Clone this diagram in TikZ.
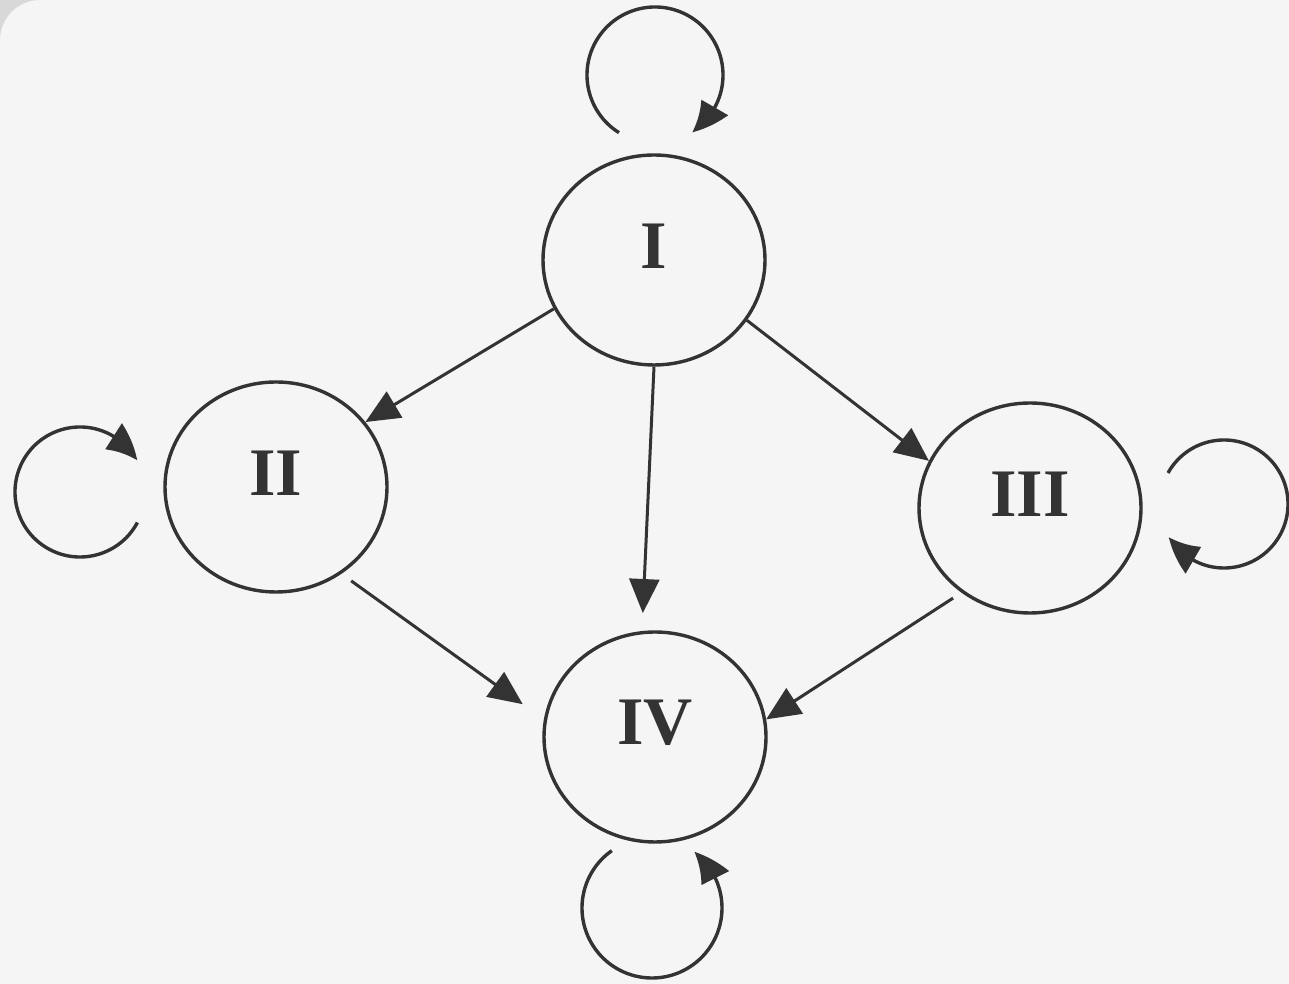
\documentclass[tikz,border=0pt]{standalone}
\usepackage{fontspec}
\setmainfont{Liberation Serif}
\usetikzlibrary{arrows.meta,bending,shapes.geometric}
\definecolor{bg}{HTML}{F5F5F5}
\definecolor{ink}{HTML}{333333}
\definecolor{cornergray}{HTML}{D8D8D8}
\begin{document}
\begin{tikzpicture}[x=0.5pt,y=0.5pt,
  statenode/.style={ellipse,draw=ink,line width=1.7pt,minimum width=111pt,minimum height=105pt,inner sep=0pt},
  lab/.style={font=\fontsize{34}{40}\selectfont\bfseries,text=ink,inner sep=0pt},
  arr/.style={draw=ink,line width=1.5pt,-{Triangle[length=17pt,width=15pt]}},
  loopline/.style={draw=ink,line width=1.7pt,-{Triangle[length=17pt,width=15pt,bend]}}]
\useasboundingbox (0,0) rectangle (1289,984);
\fill[bg] (0,0) rectangle (1289,984);
\fill[cornergray] (0,984) -- (40,984) arc[start angle=90,end angle=180,radius=40] -- cycle;

\node[statenode,label={[lab,yshift=7pt]center:I}] (I) at (654,724) {};
\node[statenode,label={[lab,yshift=7pt]center:II}] (II) at (276,497) {};
\node[statenode,label={[lab,yshift=7pt]center:III}] (III) at (1030,476) {};
\node[statenode,label={[lab,yshift=7pt]center:IV}] (IV) at (655,247) {};

\draw[arr] (I.206) -- (II.36);
\draw[arr] (I.-33) -- (III.155);
\draw[arr,shorten >=9pt] (I.270) -- (IV.97);
\draw[arr,shorten <=6pt,shorten >=13pt] (II.-53) -- (IV.171);
\draw[arr,shorten <=5pt] (III.231) -- (IV.9);

\draw[loopline] ([shift={(238:68)}]655,909) arc[start angle=238,end angle=-57,radius=68];
\draw[loopline] ([shift={(-28:65)}]80,492) arc[start angle=-28,end angle=-331,radius=65];
\draw[loopline] ([shift={(151:64)}]1224,480) arc[start angle=151,end angle=-149,radius=64];
\draw[loopline] ([shift={(125:70)}]652,76) arc[start angle=125,end angle=413,radius=70];
\end{tikzpicture}
\end{document}
